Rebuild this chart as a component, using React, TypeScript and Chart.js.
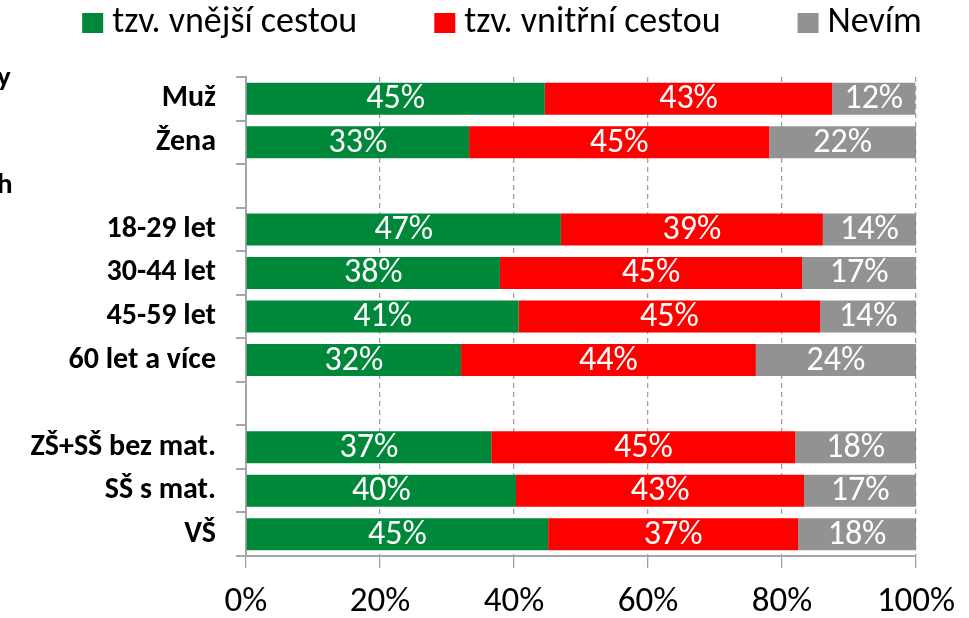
import React, { useEffect, useRef } from "react";
import { Chart, registerables } from "chart.js";

Chart.register(...registerables);

const categories = [
  "Muž",
  "Žena",
  "",
  "18-29 let",
  "30-44 let",
  "45-59 let",
  "60 let a více",
  "",
  "ZŠ+SŠ bez mat.",
  "SŠ s mat.",
  "VŠ",
];

const seriesNames = ["tzv. vnější cestou", "tzv. vnitřní cestou", "Nevím"];

const outerValues = [44.6, 33.3, null, 47.0, 37.9, 40.7, 32.1, null, 36.6, 40.3, 45.1];
const innerValues = [42.9, 44.8, null, 39.1, 45.1, 45.0, 44.0, null, 45.4, 43.0, 37.3];
const dontKnowValues = [12.4, 21.9, null, 13.9, 17.0, 14.3, 23.9, null, 18.0, 16.7, 17.6];

const xTicks = [0, 20, 40, 60, 80, 100];

const groupFragments = [
  { text: "y", row: -0.45 },
  { text: "h", row: 2.0 },
];

const colors = ["#00883A", "#FF0000", "#929292"];
const FONT = "Carlito, Lato, 'Open Sans', sans-serif";

export default function App() {
  const canvasRef = useRef<HTMLCanvasElement | null>(null);

  useEffect(() => {
    document.body.style.margin = "0";
    const canvas = canvasRef.current;
    if (!canvas) return;

    const labelsPlugin = {
      id: "segLabels",
      afterDatasetsDraw(chart: any) {
        const ctx = chart.ctx;
        ctx.save();
        ctx.font = `34px ${FONT}`;
        ctx.fillStyle = "#ffffff";
        ctx.textAlign = "center";
        ctx.textBaseline = "middle";
        chart.data.datasets.forEach((ds: any, di: number) => {
          const meta = chart.getDatasetMeta(di);
          meta.data.forEach((bar: any, i: number) => {
            const v = ds.data[i];
            if (v == null) return;
            const cx = (bar.x + bar.base) / 2;
            ctx.fillText(`${Math.round(v)}%`, cx, bar.y + 1);
          });
        });
        ctx.restore();
      },
      afterDraw(chart: any) {
        const ctx = chart.ctx;
        ctx.save();
        // legend
        ctx.font = `36px ${FONT}`;
        ctx.textBaseline = "middle";
        ctx.textAlign = "left";
        const box = 21;
        const gapBoxText = 9;
        const gapItems = 77;
        const widths = chart.data.datasets.map(
          (d: any) => box + gapBoxText + ctx.measureText(d.label).width
        );
        const total = widths.reduce((a: number, b: number) => a + b, 0) + gapItems * (widths.length - 1);
        let x = 502 - total / 2;
        const yMid = 23;
        chart.data.datasets.forEach((d: any, i: number) => {
          ctx.fillStyle = d.backgroundColor;
          ctx.fillRect(x, yMid - 10, box, box - 1);
          ctx.fillStyle = "#000000";
          ctx.fillText(d.label, x + box + gapBoxText, yMid);
          x += widths[i] + gapItems;
        });
        // cut-off group labels at left edge
        const yScale = chart.scales.y;
        const step = (yScale.bottom - yScale.top) / categories.length;
        ctx.font = `bold 29px ${FONT}`;
        ctx.fillStyle = "#000000";
        groupFragments.forEach((g) => {
          const y = yScale.top + step * (g.row + 0.5);
          ctx.fillText(g.text, -3, y);
        });
        ctx.restore();
      },
    };

    const chart = new Chart(canvas, {
      type: "bar",
      data: {
        labels: categories,
        datasets: [
          { label: seriesNames[0], data: outerValues, backgroundColor: colors[0] },
          { label: seriesNames[1], data: innerValues, backgroundColor: colors[1] },
          { label: seriesNames[2], data: dontKnowValues, backgroundColor: colors[2] },
        ],
      },
      options: {
        indexAxis: "y",
        animation: false,
        responsive: false,
        maintainAspectRatio: false,
        layout: { padding: { top: 77, right: 53, left: 0, bottom: 0 } },
        datasets: {
          bar: { categoryPercentage: 1, barPercentage: 0.735 },
        },
        plugins: {
          legend: { display: false },
          tooltip: { enabled: false },
        },
        scales: {
          x: {
            stacked: true,
            min: 0,
            max: 100,
            afterBuildTicks(scale: any) {
              scale.ticks = xTicks.map((v) => ({ value: v }));
            },
            afterFit(scale: any) {
              scale.height = 618 - 556;
            },
            ticks: {
              callback: (v: any) => `${v}%`,
              color: "#000000",
              font: { family: FONT, size: 35 },
              padding: 13,
              maxRotation: 0,
            },
            grid: {
              color: "#A0A0A0",
              lineWidth: 1.3,
              tickLength: 12,
              tickBorderDash: [],
              tickColor: "#A0A0A0",
            },
            border: { display: true, color: "#A6A6A6", width: 2, dash: [5, 4] },
          },
          y: {
            stacked: true,
            afterFit(scale: any) {
              scale.width = 246;
            },
            ticks: {
              color: "#000000",
              font: { family: FONT, size: 30, weight: "bold" },
              padding: 20,
            },
            grid: {
              offset: true,
              drawOnChartArea: false,
              tickLength: 10,
              color: "#A6A6A6",
              lineWidth: 2,
            },
            border: { display: true, color: "#A6A6A6", width: 2 },
          },
        },
      },
      plugins: [labelsPlugin],
    });

    return () => chart.destroy();
  }, []);

  return (
    <div style={{ position: "relative", width: 969, height: 618 }}>
      <canvas ref={canvasRef} width={969} height={618} style={{ width: 969, height: 618 }} />
    </div>
  );
}
